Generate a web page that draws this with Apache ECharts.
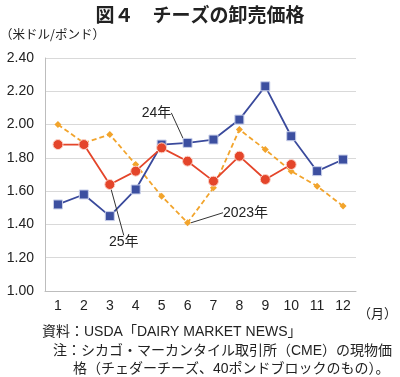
<!DOCTYPE html>
<html>
<head>
<meta charset="utf-8">
<script src="https://cdn.jsdelivr.net/npm/echarts@6/dist/echarts.min.js"></script>
<style>
  html, body { margin: 0; padding: 0; background: #fff; }
  #chart { width: 400px; height: 377px; }
</style>
</head>
<body>
<div id="chart"></div>
<script>
const months = ['1', '2', '3', '4', '5', '6', '7', '8', '9', '10', '11', '12']
const y2023 = [2.00, 1.89, 1.94, 1.76, 1.57, 1.41, 1.62, 1.97, 1.85, 1.72, 1.63, 1.51]
const y2024 = [1.52, 1.58, 1.45, 1.61, 1.88, 1.89, 1.91, 2.03, 2.23, 1.93, 1.72, 1.79]
const y2025 = [1.88, 1.88, 1.64, 1.72, 1.86, 1.78, 1.66, 1.81, 1.67, 1.76]

const fontFamily = "'Liberation Sans', 'Noto Sans CJK JP', sans-serif"
const jpFont = "'Noto Sans CJK JP', sans-serif"

// index of the point that carries the series name, and where the name goes
const tags = {
  '2023年': { index: 5, dx: 58, dy: -10 },
  '24年': { index: 5, dx: -31, dy: -30 },
  '25年': { index: 2, dx: 14, dy: 58 }
}

function withTag(values, name) {
  const tag = tags[name]
  return values.map((v, i) => {
    if (i !== tag.index) return v
    return {
      value: v,
      label: { show: true, formatter: name },
      labelLine: { show: true }
    }
  })
}

function tagLayout(name) {
  const tag = tags[name]
  return (params) => params.dataIndex === tag.index ? { dx: tag.dx, dy: tag.dy } : {}
}

const labelBase = {
  show: false,
  position: 'inside',
  color: '#222',
  fontSize: 14,
  fontFamily: fontFamily
}

const labelLineBase = {
  show: false,
  lineStyle: { color: '#333', width: 1 }
}

const noteFont = "14px 'Liberation Sans', 'Noto Sans CJK JP', sans-serif"

const chart = echarts.init(document.getElementById('chart'))

chart.setOption({
  animation: false,
  textStyle: { fontFamily: fontFamily },
  title: {
    text: '図４　チーズの卸売価格',
    left: 'center',
    top: 0,
    textStyle: {
      fontFamily: jpFont,
      fontSize: 19,
      fontWeight: 'bold',
      color: '#222'
    }
  },
  grid: {
    left: 45,
    right: 29,
    top: 58,
    bottom: 86
  },
  xAxis: {
    type: 'category',
    data: months,
    boundaryGap: true,
    name: '（月）',
    nameLocation: 'end',
    nameGap: 2,
    nameTextStyle: {
      fontFamily: jpFont,
      fontSize: 13,
      color: '#222',
      padding: [16, 0, 0, 0],
      verticalAlign: 'top'
    },
    axisTick: { show: false },
    axisLine: { lineStyle: { color: '#bdbdbd' } },
    axisLabel: {
      color: '#222',
      fontSize: 14,
      margin: 8
    }
  },
  yAxis: {
    type: 'value',
    min: 1,
    max: 2.4,
    interval: 0.2,
    axisLine: { show: true, lineStyle: { color: '#bdbdbd' } },
    axisTick: { show: false },
    splitLine: { lineStyle: { color: '#d9d9d9' } },
    axisLabel: {
      color: '#222',
      fontSize: 14,
      margin: 11,
      formatter: (v) => v.toFixed(2)
    }
  },
  series: [
    {
      name: '2023年',
      type: 'line',
      data: withTag(y2023, '2023年'),
      symbol: 'diamond',
      symbolSize: 7,
      lineStyle: { color: '#f2a42c', width: 1.8, type: [5, 3] },
      itemStyle: { color: '#f2a42c' },
      label: labelBase,
      labelLine: labelLineBase,
      labelLayout: tagLayout('2023年'),
      z: 2
    },
    {
      name: '24年',
      type: 'line',
      data: withTag(y2024, '24年'),
      symbol: 'rect',
      symbolSize: 9,
      lineStyle: { color: '#3a4a9c', width: 1.8 },
      itemStyle: { color: '#3c4fa0', borderColor: '#c9d0ea', borderWidth: 1 },
      label: labelBase,
      labelLine: labelLineBase,
      labelLayout: tagLayout('24年'),
      z: 3
    },
    {
      name: '25年',
      type: 'line',
      data: withTag(y2025, '25年'),
      symbol: 'circle',
      symbolSize: 10,
      lineStyle: { color: '#e4452a', width: 1.8 },
      itemStyle: { color: '#e4452a', borderColor: '#fbd3c8', borderWidth: 1 },
      label: labelBase,
      labelLine: labelLineBase,
      labelLayout: tagLayout('25年'),
      z: 4
    }
  ],
  graphic: [
    {
      type: 'text',
      x: 0,
      y: 34,
      style: {
        text: '（米ドル/ポンド）',
        font: "12.5px 'Noto Sans CJK JP', sans-serif",
        fill: '#222',
        verticalAlign: 'middle'
      }
    },
    {
      type: 'text',
      x: 42,
      y: 332,
      style: {
        text: '資料：USDA「DAIRY MARKET NEWS」',
        font: noteFont,
        fill: '#222',
        verticalAlign: 'middle'
      }
    },
    {
      type: 'text',
      x: 53,
      y: 351,
      style: {
        text: '注：シカゴ・マーカンタイル取引所（CME）の現物価',
        font: noteFont,
        fill: '#222',
        verticalAlign: 'middle'
      }
    },
    {
      type: 'text',
      x: 73,
      y: 369,
      style: {
        text: '格（チェダーチーズ、40ポンドブロックのもの）。',
        font: noteFont,
        fill: '#222',
        verticalAlign: 'middle'
      }
    }
  ]
})
</script>
</body>
</html>
